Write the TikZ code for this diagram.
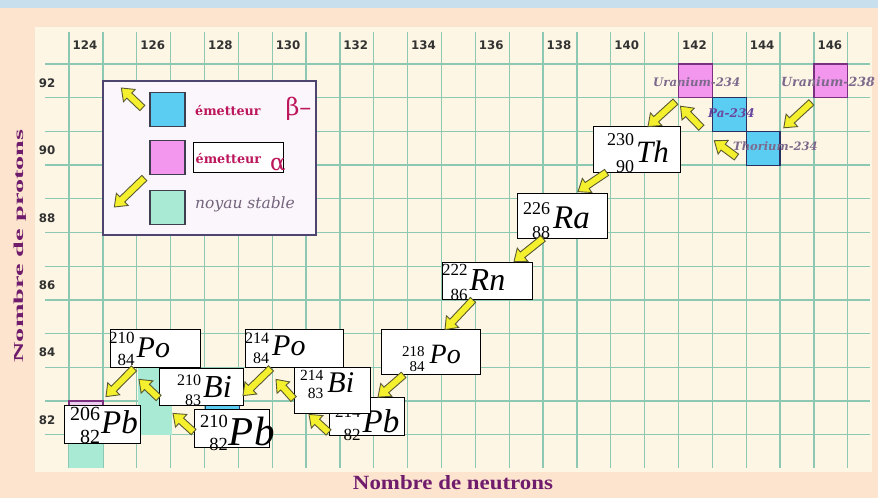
\documentclass[tikz,border=0pt]{standalone}
\usepackage{fontspec}
\setmainfont{Liberation Serif}
\newfontfamily\dvsans{DejaVu Sans}
\newfontfamily\dvserif{DejaVu Serif}
\usetikzlibrary{calc}
\definecolor{peach}{RGB}{252,228,206}
\definecolor{topblue}{RGB}{200,224,238}
\definecolor{cream}{RGB}{253,246,228}
\definecolor{gridc}{RGB}{140,200,178}
\definecolor{axpurple}{RGB}{112,28,108}
\definecolor{crim}{RGB}{188,22,92}
\definecolor{lblgray}{RGB}{125,105,140}
\definecolor{palbl}{RGB}{105,72,160}
\definecolor{nstab}{RGB}{115,100,125}
\definecolor{betac}{RGB}{92,205,242}
\definecolor{alphac}{RGB}{243,150,238}
\definecolor{stablec}{RGB}{168,234,212}
\definecolor{arrowy}{RGB}{245,240,45}
\definecolor{arrowo}{RGB}{90,90,50}
\definecolor{ticktxt}{RGB}{50,50,50}
\definecolor{legborder}{RGB}{78,68,112}
\definecolor{legfill}{RGB}{251,246,251}
\definecolor{sqedge}{RGB}{62,62,78}
\definecolor{pinkedge}{RGB}{122,48,128}
\definecolor{blueedge}{RGB}{40,48,98}
\definecolor{lavfill}{RGB}{238,205,238}

% #1 A, #2 Z, #3 symbol, #4 number size, #5 symbol size, #6 raise A, #7 lower Z, #8 kern
\newcommand\nuc[8]{%
  \begingroup\fontsize{#4pt}{#4pt}\selectfont
  \setbox0=\hbox{#1}\setbox2=\hbox{#2}%
  \ifdim\wd0>\wd2 \dimen0=\wd0 \else \dimen0=\wd2 \fi
  \rlap{\hbox to\dimen0{\hss\raise#6pt\box0}}%
  \hbox to\dimen0{\hss\lower#7pt\box2}%
  \endgroup\kern#8pt%
  {\fontsize{#5pt}{#5pt}\selectfont\itshape #3}}

\newcommand\decay[2]{%
  \filldraw[decayarrow] let \p1=(#1), \p2=(#2), \n1={atan2(\y2-\y1,\x2-\x1)} in
    ($(\p1)+(\n1+90:3.6pt)$) --
    ($(\p2)+(\n1+180:11pt)+(\n1+90:3.6pt)$) --
    ($(\p2)+(\n1+180:11pt)+(\n1+90:8.5pt)$) --
    (\p2) --
    ($(\p2)+(\n1+180:11pt)+(\n1-90:8.5pt)$) --
    ($(\p2)+(\n1+180:11pt)+(\n1-90:3.6pt)$) --
    ($(\p1)+(\n1-90:3.6pt)$) -- cycle;}

\tikzset{
  gridline/.style={draw=gridc, line width=1.3pt},
  ticklbl/.style={font={\dvsans\bfseries\fontsize{11.8pt}{13pt}\selectfont}, text=ticktxt, inner sep=0pt},
  nucbox/.style={draw=black, line width=0.8pt, fill=white, rectangle, inner sep=0pt},
  nuctext/.style={anchor=base west, inner sep=0pt, text=black},
  decayarrow/.style={draw=arrowo, fill=arrowy, line width=0.9pt, line join=miter},
  chartsq/.style={rectangle, inner sep=0pt, minimum width=33.86pt, minimum height=33.7pt, line width=1.3pt},
  alphasq/.style={chartsq, fill=alphac, draw=pinkedge},
  betasq/.style={chartsq, fill=betac, draw=blueedge},
  legsq/.style={rectangle, inner sep=0pt, minimum width=35pt, minimum height=34pt, draw=sqedge, line width=1.3pt},
  isolbl/.style={anchor=base west, inner sep=0pt, text=lblgray},
  axlabel/.style={inner sep=0pt, font=\bfseries, text=axpurple},
  legtext/.style={anchor=base west, inner sep=0pt},
}

\begin{document}
\begin{tikzpicture}[x=1pt,y=-1pt]
\useasboundingbox (0,0) rectangle (878,498);
% backgrounds
\fill[peach] (0,0) rectangle (878,498);
\fill[topblue] (0,0) rectangle (878,8);
\fill[cream] (35,27) rectangle (872,472);
% grid
\foreach \k in {0,...,23} \draw[gridline] ({69+\k*33.86},32) -- ({69+\k*33.86},468);
\foreach \i in {0,...,11} \draw[gridline] (45,{64+\i*33.7}) -- (870,{64+\i*33.7});
% tick labels
\foreach \j in {0,...,11}{
  \pgfmathtruncatemacro\nn{124+2*\j}
  \node[ticklbl] (col\nn) at ({68+(2*\j+0.5)*33.86},45.5) {\nn};
}
\foreach \z in {82,84,...,92}{
  \node[ticklbl] (row\z) at (47,{64+(92-\z)*33.7+19}) {\z};
}
% coloured cells behind the lower chain
\fill[stablec] (69,435) rectangle (103,468);
\draw[pinkedge, fill=lavfill, line width=1.2pt] (69,401) rectangle (103,435);
\fill[stablec] (137.7,367.3) rectangle (171.6,434.7);
\draw[blueedge, fill=betac, line width=1.2pt] (205.4,401) rectangle (239.3,434.7);

% top-right cells
\node[alphasq] (u238) at (830.9,80.9) {};
\node[alphasq] (u234) at (695.5,80.9) {};
\node[betasq] (pa234) at (729.3,114.6) {};
\node[betasq] (th234) at (763.2,148.3) {};
\node[isolbl, font={\dvserif\bfseries\itshape\fontsize{11.7pt}{12pt}\selectfont}] (u234l) at (653,86) {Uranium-234};
\node[isolbl, font={\dvserif\bfseries\itshape\fontsize{12.6pt}{13pt}\selectfont}] (u238l) at (781,86) {Uranium-238};
\node[isolbl, text=palbl, font={\dvserif\bfseries\itshape\fontsize{12pt}{13pt}\selectfont}] (pa234l) at (708,117.5) {Pa-234};
\node[isolbl, font={\dvserif\bfseries\itshape\fontsize{11.5pt}{12pt}\selectfont}] (th234l) at (733,150) {Thorium-234};

% legend
\node[rectangle, draw=legborder, fill=legfill, line width=1.3pt, minimum width=213pt, minimum height=154pt, inner sep=0pt] (legend) at (209.5,158) {};
\node[legsq, fill=betac] (legbeta) at (167.5,109.5) {};
\node[legsq, fill=alphac] (legalpha) at (167.5,157.5) {};
\node[legsq, fill=stablec] (legstable) at (167.5,207.5) {};
\node[legtext, text=crim] (legbt) at (195,115) {\dvserif\bfseries\fontsize{12.7pt}{14pt}\selectfont émetteur\hspace{25pt}{\mdseries\fontsize{24pt}{24pt}\selectfont β–}};
\node[nucbox, minimum width=90pt, minimum height=30pt] (legabox) at (238,157) {};
\node[legtext, text=crim] (legat) at (195.5,163) {\dvserif\bfseries\fontsize{12.7pt}{14pt}\selectfont émetteur\hspace{9pt}{\mdseries\fontsize{23pt}{24pt}\selectfont\raisebox{-7.5pt}{α}}};
\node[legtext, text=nstab] (legst) at (195,208) {\dvserif\itshape\fontsize{15.5pt}{16pt}\selectfont noyau stable};
\decay{[shift={(-7,-1.5)}]legbeta.west}{[shift={(-28,-21.5)}]legbeta.west}
\decay{[shift={(-5,-29.5)}]legstable.west}{[shift={(-35,-0.5)}]legstable.west}

% nuclide boxes
\node[nucbox, minimum width=87pt, minimum height=46pt] (th230) at (636.5,149) {};
\node[nuctext] (th230t) at (607,162) {\nuc{230}{90}{Th}{18}{31}{17}{10}{2}};
\node[nucbox, minimum width=90pt, minimum height=45pt] (ra226) at (562,215.5) {};
\node[nuctext] (ra226t) at (523,228) {\nuc{226}{88}{Ra}{18}{33}{14}{10}{3}};
\node[nucbox, minimum width=90pt, minimum height=37pt] (rn222) at (487,280.5) {};
\node[nuctext] (rn222t) at (442,290) {\nuc{222}{86}{Rn}{17}{32}{15}{10}{2}};
\node[nucbox, minimum width=99pt, minimum height=45pt] (po218) at (430.5,351.5) {};
\node[nuctext] (po218t) at (402,363) {\nuc{218}{84}{Po}{15}{28}{7}{8}{5}};
\node[nucbox, minimum width=75pt, minimum height=38pt] (pb214) at (366.5,416) {};
\node[nuctext] (pb214t) at (335,432) {\nuc{214}{82}{Pb}{17}{33}{15}{8}{2}};
\node[nucbox, minimum width=98pt, minimum height=38pt] (po214) at (294,348) {};
\node[nuctext] (po214t) at (245,355) {\nuc{214}{84}{Po}{16}{30}{12}{8}{3}};
\node[nucbox, minimum width=76pt, minimum height=46pt] (bi214) at (332,390) {};
\node[nuctext] (bi214t) at (300,392) {\nuc{214}{83}{Bi}{15.5}{30}{12}{6}{4}};
\node[nucbox, minimum width=75pt, minimum height=38pt] (pb210) at (231.5,428) {};
\node[nuctext] (pb210t) at (200,445) {\nuc{210}{82}{Pb}{18.5}{41}{18}{5}{1}};
\node[nucbox, minimum width=84pt, minimum height=37pt] (bi210) at (201,386.5) {};
\node[nuctext] (bi210t) at (177,397) {\nuc{210}{83}{Bi}{16}{32}{12}{8}{2}};
\node[nucbox, minimum width=90pt, minimum height=38pt] (po210) at (155,348) {};
\node[nuctext] (po210t) at (109,357) {\nuc{210}{84}{Po}{17}{30}{14}{8}{2}};
\node[nucbox, minimum width=76pt, minimum height=38pt] (pb206) at (102,424) {};
\node[nuctext] (pb206t) at (70,433) {\nuc{206}{82}{Pb}{20}{33}{13}{10}{1}};

% decay arrows
\decay{[shift={(-2,4)}]u238.south west}{[shift={(3,-3)}]th234.north east}
\decay{[shift={(-9.2,8.7)}]th234.west}{[shift={(2.6,8.6)}]pa234.south west}
\decay{[shift={(-10.4,-4.4)}]pa234.south west}{[shift={(-15,7.8)}]u234.south}
\decay{[shift={(-2.5,3.3)}]u234.south west}{[shift={(11.5,1)}]th230.north}
\decay{[shift={(14,0)}]th230.south west}{[shift={(16,-1)}]ra226.north}
\decay{[shift={(-19,0)}]ra226.south}{[shift={(27,0)}]rn222.north}
\decay{[shift={(-14,0.5)}]rn222.south}{[shift={(14.5,1)}]po218.north}
\decay{[shift={(23,0.5)}]po218.south west}{[shift={(11.5,0.5)}]pb214.north}
\decay{[shift={(0,-3)}]pb214.south west}{[shift={(-23,1)}]bi214.south}
\decay{[shift={(0,9)}]bi214.west}{[shift={(-18,12)}]po214.south}
\decay{[shift={(-23,1)}]po214.south}{[shift={(11.5,-13)}]pb210.north}
\decay{[shift={(0,4)}]pb210.west}{[shift={(-28,8)}]bi210.south}
\decay{[shift={(0,11.5)}]bi210.west}{[shift={(-16,12)}]po210.south}
\decay{[shift={(-21,1)}]po210.south}{[shift={(4,-8)}]pb206.north}

% axis titles
\node[axlabel, rotate=90] (ylab) at (20,246) {\resizebox{233pt}{9.5pt}{Nombre de protons}};
\node[axlabel] (xlab) at (453,483) {\resizebox{200pt}{14pt}{Nombre de neutrons}};
\end{tikzpicture}
\end{document}
